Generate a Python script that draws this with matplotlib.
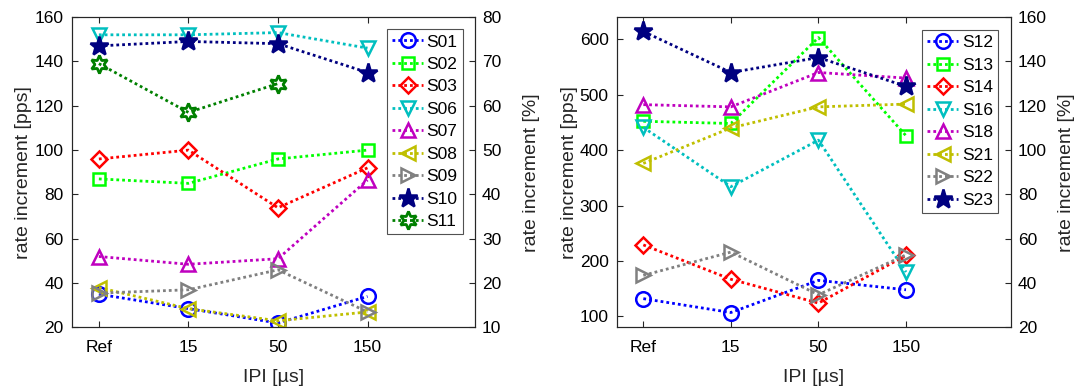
import matplotlib
matplotlib.use('Agg')
import matplotlib.pyplot as plt
import numpy as np

plt.rcParams['font.family'] = ['Liberation Sans', 'DejaVu Sans']
plt.rcParams['font.size'] = 12.5

conditions = ['Ref', '15', '50', '150']

# left panel: subjects S01..S11, rate increment in pps
left_names = ['S01', 'S02', 'S03', 'S06', 'S07', 'S08', 'S09', 'S10', 'S11']
s01 = [35, 28.5, 22, 34]
s02 = [87, 85, 96, 100]
s03 = [96, 100, 74, 92]
s06 = [152, 152, 153, 146]
s07 = [52, 48.5, 51, 86.5]
s08 = [38, 28.5, 23, 27]
s09 = [35.5, 37, 46, 27]
s10 = [147, 149, 148, 135]
s11 = [139, 117, 130, np.nan]
left_values = [s01, s02, s03, s06, s07, s08, s09, s10, s11]

# right panel: subjects S12..S23
right_names = ['S12', 'S13', 'S14', 'S16', 'S18', 'S21', 'S22', 'S23']
s12 = [132, 107, 165, 148]
s13 = [452, 448, 603, 426]
s14 = [229, 167, 124, 210]
s16 = [441, 334, 418, 180]
s18 = [482, 478, 540, 530]
s21 = [376, 440, 478, 483]
s22 = [174, 216, 139, 211]
s23 = [614, 540, 567, 515]
right_values = [s12, s13, s14, s16, s18, s21, s22, s23]

hexagram = (6, 1, 0)
left_styles = [('b', 'o'), ('#00ff00', 's'), ('r', 'D'), ('#00bfbf', 'v'),
               ('#bf00bf', '^'), ('#bfbf00', '<'), ('#808080', '>'),
               ('#000080', '*'), ('#008000', hexagram)]
right_styles = left_styles[:8]

axcol = '#262626'


def marker_size(m):
    if m == '*':
        return 14
    if m == hexagram:
        return 13
    if m in ('D', 's'):
        return 8.5
    return 10.5


def draw_panel(fig, rect, names, values, styles, ylim, yticks, scale, ryticks, leg_anchor):
    ax = fig.add_axes(rect)
    x = np.arange(1, len(conditions) + 1)
    for name, vals, (col, m) in zip(names, values, styles):
        filled = m == '*'
        ax.plot(x, vals, linestyle=(0, (1, 1.1)), linewidth=2, color=col, marker=m,
                markersize=marker_size(m), markeredgewidth=2.0 if m == hexagram else 1.8,
                markerfacecolor=col if filled else 'none', label=name)
    ax.set_xlim(0.7, 5.2)
    ax.set_ylim(*ylim)
    ax.set_xticks(x)
    ax.set_xticklabels(conditions)
    ax.set_yticks(yticks)
    ax.set_xlabel('IPI [µs]', fontsize=14, color=axcol)
    ax.set_ylabel('rate increment [pps]', fontsize=14, color=axcol)
    ax.xaxis.set_label_coords(0.5, -0.134)
    ax.yaxis.set_label_coords(-0.10, 0.5)
    ax.tick_params(direction='in', top=True, colors=axcol, length=4, labelcolor='black')
    ax.tick_params(axis='x', pad=9)
    ax.tick_params(axis='y', pad=6)
    for sp in ax.spines.values():
        sp.set_color(axcol)
        sp.set_linewidth(0.8)

    ax2 = ax.twinx()
    ax2.set_ylim(ylim[0] / scale, ylim[1] / scale)
    ax2.set_yticks(ryticks)
    ax2.set_ylabel('rate increment [%]', fontsize=14, color=axcol)
    ax2.yaxis.set_label_coords(1.12, 0.5)
    ax2.tick_params(direction='in', colors=axcol, length=4, labelcolor='black', pad=5)
    for sp in ax2.spines.values():
        sp.set_color(axcol)
        sp.set_linewidth(0.8)

    leg = ax.legend(loc='upper right', bbox_to_anchor=leg_anchor, fancybox=False,
                    fontsize=12.5, edgecolor=axcol, handlelength=1.8, handletextpad=0.2,
                    labelspacing=0.42, borderpad=0.3, borderaxespad=0.0)
    leg.get_frame().set_linewidth(0.8)
    ax.set_zorder(ax2.get_zorder() + 1)
    ax.patch.set_visible(False)
    return ax


fig = plt.figure(figsize=(10.78, 3.88), dpi=100)
draw_panel(fig, [0.0668, 0.156, 0.3738, 0.8], left_names, left_values, left_styles,
           (20, 160), np.arange(20, 161, 20), 2.0, np.arange(10, 81, 10), (0.970, 0.961))
draw_panel(fig, [0.5724, 0.156, 0.3655, 0.8], right_names, right_values, right_styles,
           (80, 640), np.arange(100, 601, 100), 4.0, np.arange(20, 161, 20), (0.967, 0.958))

fig.savefig('out.png', dpi=100)
